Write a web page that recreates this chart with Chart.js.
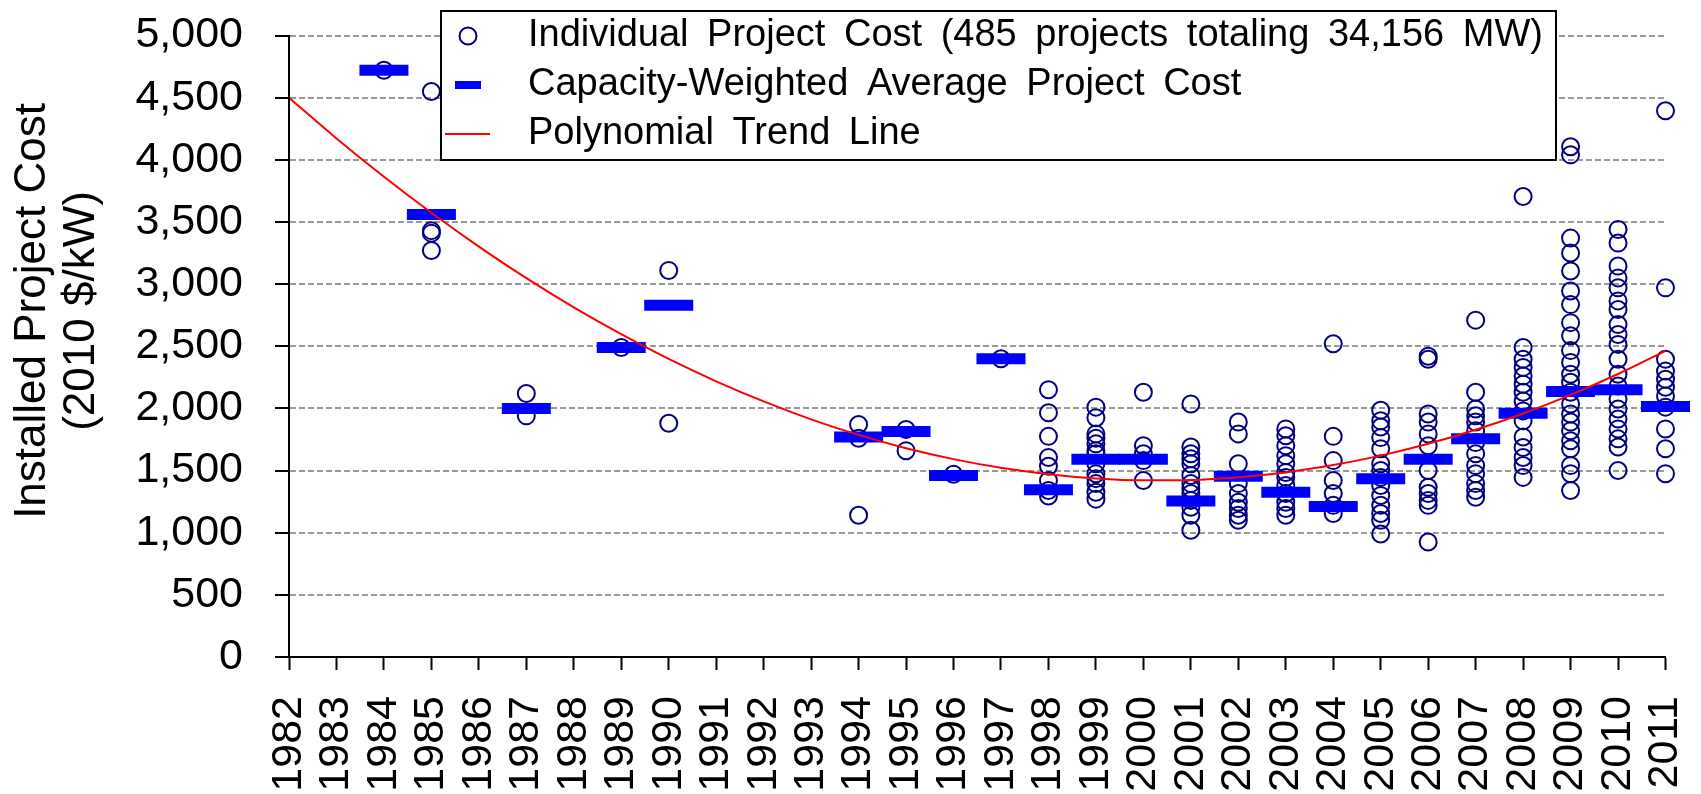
<!DOCTYPE html>
<html>
<head>
<meta charset="utf-8">
<title>Installed Project Cost</title>
<script src="https://cdn.jsdelivr.net/npm/chart.js@4.4.1/dist/chart.umd.min.js"></script>
<style>
  html, body { margin: 0; padding: 0; background: #fff; }
  #wrap { width: 1701px; height: 794px; position: relative; }
</style>
</head>
<body>
<div id="wrap"><canvas id="costChart"></canvas></div>
<script>
const years = [1982, 1983, 1984, 1985, 1986, 1987, 1988, 1989, 1990, 1991,
               1992, 1993, 1994, 1995, 1996, 1997, 1998, 1999, 2000, 2001,
               2002, 2003, 2004, 2005, 2006, 2007, 2008, 2009, 2010, 2011];

// individual projects, one list of costs per year ($/kW)
const projectYears = [1984, 1985, 1987, 1989, 1990, 1994, 1995, 1996, 1997, 1998,
                      1999, 2000, 2001, 2002, 2003, 2004, 2005, 2006, 2007, 2008,
                      2009, 2010, 2011];
const projectCosts = [
  [4720],
  [4550, 3430, 3410, 3270],
  [2120, 1940],
  [2490],
  [3110, 1880],
  [1870, 1760, 1140],
  [1830, 1660],
  [1470],
  [2400],
  [2150, 1965, 1775, 1605, 1535, 1420, 1340, 1295],
  [2010, 1925, 1795, 1760, 1715, 1660, 1635, 1555, 1475, 1435, 1395, 1325, 1270],
  [2130, 1700, 1635, 1580, 1420],
  [2035, 1690, 1635, 1595, 1555, 1460, 1395, 1355, 1315, 1260, 1205, 1140, 1020],
  [1890, 1795, 1555, 1395, 1315, 1245, 1195, 1140, 1100],
  [1835, 1780, 1700, 1620, 1555, 1485, 1445, 1380, 1315, 1245, 1195, 1140],
  [2520, 1775, 1580, 1420, 1315, 1220, 1155],
  [1985, 1900, 1850, 1765, 1675, 1555, 1500, 1445, 1380, 1300, 1220, 1155, 1100, 990],
  [2420, 2395, 1955, 1890, 1795, 1700, 1500, 1365, 1315, 1260, 1220, 925],
  [2710, 2130, 1995, 1940, 1890, 1820, 1725, 1635, 1540, 1475, 1395, 1340, 1285],
  [3705, 2490, 2395, 2330, 2260, 2195, 2130, 2060, 1980, 1900, 1770, 1685, 1605, 1540, 1445],
  [4105, 4040, 3370, 3250, 3105, 2945, 2835, 2690, 2585, 2465, 2370, 2275, 2210, 2130, 2035,
   1955, 1890, 1820, 1740, 1675, 1540, 1475, 1340],
  [3440, 3330, 3145, 3050, 2970, 2865, 2795, 2675, 2595, 2515, 2395, 2275, 2180, 2075, 1995,
   1915, 1835, 1755, 1690, 1500],
  [4395, 2970, 2395, 2300, 2235, 2170, 2100, 2010, 1835, 1675, 1475]
];

// capacity-weighted average per year
const avgCosts = [4720, 3560, 2000, 2490, 2830, 1770, 1815, 1460, 2400, 1345,
                  1590, 1590, 1255, 1455, 1325, 1210, 1435, 1590, 1755, 1960,
                  2135, 2150, 2015];

// polynomial trend line, read at every year
const trendCosts = [4500, 4172, 3864, 3574, 3302, 3048, 2813, 2597, 2398, 2218,
                    2056, 1912, 1787, 1680, 1592, 1522, 1470, 1436, 1421, 1424,
                    1446, 1485, 1544, 1620, 1715, 1828, 1959, 2109, 2277, 2463];

const legendLabels = [
  "Individual Project Cost (485 projects totaling 34,156 MW)",
  "Capacity-Weighted Average Project Cost",
  "Polynomial Trend Line"
];
const yTitleLines = ["Installed Project Cost", "(2010 $/kW)"];

const FONT = "'Liberation Sans', Arial, sans-serif";
Chart.defaults.font.family = FONT;

const individualPoints = projectYears.flatMap((yr, i) =>
  projectCosts[i].map(c => ({ x: yr, y: c })));

// legend drawn inside the plot, like the original
const legendBox = {
  id: "legendBox",
  afterDraw(chart) {
    const ctx = chart.ctx;
    const rows = [36, 85, 134];
    ctx.save();
    ctx.fillStyle = "#fff";
    ctx.strokeStyle = "#000";
    ctx.lineWidth = 2;
    ctx.fillRect(441, 11, 1115, 149);
    ctx.strokeRect(441, 11, 1115, 149);

    ctx.beginPath();
    ctx.arc(468, rows[0], 8.5, 0, Math.PI * 2);
    ctx.strokeStyle = "#000080";
    ctx.stroke();

    ctx.fillStyle = "#0000ff";
    ctx.fillRect(455, rows[1] - 4, 26, 8);

    ctx.strokeStyle = "#ff0000";
    ctx.beginPath();
    ctx.moveTo(445, rows[2]);
    ctx.lineTo(490, rows[2]);
    ctx.stroke();

    ctx.font = "38px " + FONT;
    ctx.fillStyle = "#000";
    ctx.textBaseline = "middle";
    legendLabels.forEach((label, i) => {
      let x = 528;
      label.split(" ").forEach(w => {
        ctx.fillText(w, x, rows[i]);
        x += ctx.measureText(w + " ").width + 8;
      });
    });
    ctx.restore();
  }
};

// two-line rotated axis title
const yTitle = {
  id: "yTitle",
  afterDraw(chart) {
    const ctx = chart.ctx;
    ctx.save();
    ctx.translate(0, 311);
    ctx.rotate(-Math.PI / 2);
    ctx.font = "44px " + FONT;
    ctx.fillStyle = "#000";
    ctx.textAlign = "center";
    ctx.textBaseline = "middle";
    ctx.fillText(yTitleLines[0], 0, 33);
    ctx.fillText(yTitleLines[1], 0, 82);
    ctx.restore();
  }
};

document.addEventListener("DOMContentLoaded", function () {
  const ctx = document.getElementById("costChart").getContext("2d");
  new Chart(ctx, {
    type: "scatter",
    data: {
      datasets: [
        {
          label: legendLabels[2],
          type: "line",
          data: years.map((yr, i) => ({ x: yr, y: trendCosts[i] })),
          borderColor: "#ff0000",
          borderWidth: 2,
          pointRadius: 0,
          cubicInterpolationMode: "monotone",
          fill: false,
          order: 0,
          clip: false
        },
        {
          label: legendLabels[1],
          data: projectYears.map((yr, i) => ({ x: yr, y: avgCosts[i] })),
          pointStyle: "line",
          pointRadius: 24.5,
          pointBorderWidth: 11,
          pointBorderColor: "#0000ff",
          borderColor: "#0000ff",
          order: 1,
          clip: false
        },
        {
          label: legendLabels[0],
          data: individualPoints,
          pointStyle: "circle",
          pointRadius: 8.5,
          pointBorderWidth: 2,
          pointBorderColor: "#000080",
          pointBackgroundColor: "rgba(0,0,0,0)",
          borderColor: "#000080",
          order: 2,
          clip: false
        }
      ]
    },
    options: {
      responsive: true,
      maintainAspectRatio: false,
      animation: false,
      events: [],
      layout: { padding: { top: 34, right: 23, left: 0, bottom: 0 } },
      plugins: {
        legend: { display: false },
        tooltip: { enabled: false }
      },
      scales: {
        x: {
          type: "linear",
          min: years[0],
          max: years[years.length - 1],
          afterFit: s => { s.height = 137; s.paddingLeft = 0; s.paddingRight = 0; },
          ticks: {
            stepSize: 1,
            autoSkip: false,
            maxRotation: 90,
            minRotation: 90,
            padding: 26,
            color: "#000",
            font: { size: 43 },
            callback: v => String(v)
          },
          grid: { drawOnChartArea: false, tickLength: 13, tickColor: "#000", tickWidth: 2 },
          border: { color: "#000", width: 2, z: 1 }
        },
        y: {
          min: 0,
          max: 5000,
          afterFit: s => { s.width = 289; s.paddingTop = 0; s.paddingBottom = 0; },
          ticks: { stepSize: 500, padding: 32, color: "#000", font: { size: 43 } },
          grid: { color: "#999999", lineWidth: 2, tickColor: "#000", tickWidth: 2, tickLength: 14, tickBorderDash: [] },
          border: { color: "#000", width: 2, dash: [6, 3], z: 1 }
        }
      }
    },
    plugins: [yTitle, legendBox]
  });
});
</script>
</body>
</html>
